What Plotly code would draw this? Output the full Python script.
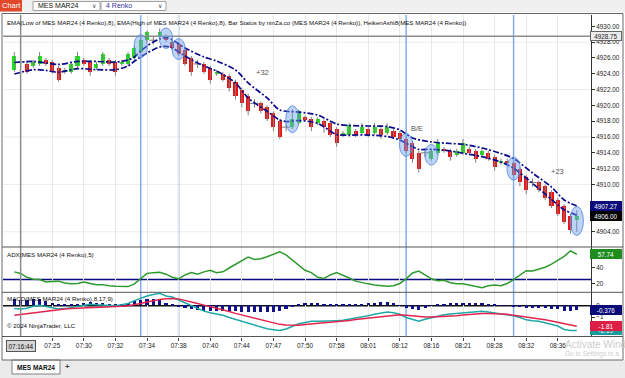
import plotly.graph_objects as go

W, H = 625, 378

# ---------------- data ----------------
opens = [
    4924.5, None, 4925.25, 4925.0, 4925.25, 4925.75, 4925.5, 4924.75, 4924.25, 4924.25,
    4925.0, 4925.75, 4925.5, 4924.75, 4925.25, 4925.75, 4925.5, 4925.25, 4925.25, 4926.0,
    4926.75, 4928.25, None, 4928.75, 4928.75, 4928.0, 4927.75, 4927.0, 4926.0, None,
    4925.25, 4924.75, 4924.0, 4924.0, 4923.75, 4923.0, 4922.0, 4921.25, None, 4920.25,
    4919.75, 4919.0, 4918.0, None, 4917.25, 4917.75, 4918.5, 4918.25, 4917.75, 4918.0,
    4917.75, 4917.0, 4916.25, 4916.25, 4916.75, 4916.5, 4917.0, 4916.5, 4917.0, 4916.5,
    4916.75, 4916.5, 4915.75, 4915.25, 4914.0, None, 4913.25, 4914.0, 4914.5, 4914.25,
    4913.75, 4914.0, 4914.5, 4914.25, 4913.75, 4914.0, 4913.5, 4912.75, 4913.0, 4912.75,
    4912.0, 4911.0, None, 4910.25, 4909.75, 4909.0, 4908.0, 4907.25, 4906.0, 4905.5]
highs = [
    4926.75, None, 4925.5, 4925.75, 4926.75, 4926.0, 4925.75, 4925.0, 4924.75, 4925.5,
    4926.75, 4926.0, 4925.75, 4925.5, 4926.75, 4926.0, 4925.75, 4925.75, 4926.75, 4927.5,
    4928.5, 4929.5, None, 4929.75, 4929.0, 4928.25, 4928.0, 4927.25, 4926.25, None,
    4925.5, 4925.0, 4924.5, 4924.25, 4924.0, 4923.25, 4922.25, 4921.5, None, 4920.5,
    4920.0, 4919.25, 4918.25, None, 4919.5, 4919.5, 4918.75, 4918.5, 4918.5, 4918.25,
    4918.0, 4917.25, 4916.75, 4917.75, 4917.0, 4917.75, 4917.25, 4917.75, 4917.25, 4917.75,
    4917.0, 4916.75, 4916.0, 4915.5, 4914.25, None, 4914.5, 4915.75, 4914.75, 4914.5,
    4914.5, 4915.75, 4914.75, 4914.5, 4914.5, 4914.25, 4913.75, 4913.25, 4913.25, 4913.0,
    4912.25, 4911.25, None, 4910.5, 4910.0, 4909.25, 4908.25, 4907.5, 4906.25, 4906.75]
lows = [
    4924.25, None, 4924.0, 4924.75, 4925.0, 4925.0, 4924.0, 4923.0, 4924.0, 4924.0,
    4924.75, 4925.0, 4923.75, 4924.5, 4925.0, 4925.0, 4923.75, 4925.0, 4925.0, 4925.75,
    4926.5, 4928.0, None, 4928.5, 4928.0, 4927.0, 4926.25, 4925.0, 4923.75, None,
    4924.0, 4922.75, 4923.75, 4923.0, 4921.75, 4920.75, 4919.75, 4918.75, None, 4919.0,
    4918.0, 4916.75, 4915.75, None, 4917.0, 4917.5, 4918.0, 4916.75, 4917.5, 4916.5,
    4916.0, 4914.75, 4916.0, 4916.0, 4916.0, 4916.25, 4916.0, 4916.25, 4915.75, 4916.25,
    4915.75, 4915.5, 4914.0, 4912.75, 4911.5, None, 4913.0, 4913.75, 4914.0, 4913.0,
    4913.5, 4913.75, 4913.75, 4912.75, 4913.5, 4913.0, 4911.75, 4912.5, 4912.5, 4911.0,
    4909.75, 4908.75, None, 4909.0, 4908.0, 4907.0, 4906.0, 4905.0, 4903.75, 4904.0]
closes = [
    4926.25, None, 4924.25, 4925.5, 4926.25, 4925.25, 4924.25, 4923.25, 4924.5, 4925.25,
    4926.25, 4925.25, 4924.25, 4925.25, 4926.5, 4925.25, 4924.25, 4925.5, 4926.5, 4927.25,
    4928.25, 4929.25, None, 4929.25, 4928.25, 4927.25, 4926.5, 4925.25, 4924.25, None,
    4924.25, 4923.25, 4924.25, 4923.25, 4922.25, 4921.25, 4920.25, 4919.25, None, 4919.25,
    4918.25, 4917.25, 4916.0, None, 4918.25, 4919.25, 4918.25, 4917.25, 4918.25, 4917.25,
    4916.25, 4915.25, 4916.5, 4917.5, 4916.25, 4917.25, 4916.25, 4917.25, 4916.25, 4917.25,
    4916.0, 4915.75, 4914.25, 4913.25, 4912.0, None, 4914.25, 4915.25, 4914.25, 4913.5,
    4914.25, 4915.25, 4914.0, 4913.25, 4914.25, 4913.25, 4912.25, 4913.0, 4912.75, 4911.25,
    4910.25, 4909.25, None, 4909.25, 4908.25, 4907.25, 4906.25, 4905.25, 4904.25, 4906.0]
bar_idx = list(range(len(opens)))

cross_idx = [1, 22, 29, 38, 43, 65, 82]
cross_price = [4925.5, 4928.25, 4925.25, 4920.25, 4917.25, 4914.0, 4910.25]

ema_hi_idx = [0, 3, 5, 7, 10, 13, 16, 18, 19, 20, 21, 22, 23, 24, 25, 27, 30, 32, 35, 37,
              40, 42, 45, 48, 51, 53, 56, 59, 61, 63, 66, 69, 71, 74, 77, 79, 82, 85, 87, 89]
ema_hi = [4925.43, 4925.56, 4925.37, 4925.18, 4925.56, 4925.56, 4925.49, 4925.75, 4926.13, 4926.89,
          4927.52, 4928.03, 4928.41, 4928.59, 4928.28, 4927.27, 4926.13, 4925.62, 4924.48, 4922.84,
          4920.94, 4919.42, 4919.16, 4918.78, 4917.65, 4917.46, 4917.39, 4917.33, 4916.89, 4915.87,
          4915.37, 4915.18, 4915.08, 4914.61, 4913.91, 4913.28, 4911.44, 4909.67, 4908.03, 4907.27]
ema_lo_idx = [0, 3, 5, 7, 10, 13, 16, 18, 19, 21, 23, 24, 25, 27, 30, 32, 35, 37, 40, 42,
              43, 45, 48, 51, 53, 56, 59, 61, 62, 64, 66, 69, 71, 74, 77, 79, 82, 85, 87, 89]
ema_lo = [4923.97, 4924.52, 4924.42, 4924.19, 4924.65, 4924.52, 4924.52, 4924.99, 4925.58, 4926.63,
          4927.39, 4927.46, 4927.27, 4926.25, 4924.99, 4924.35, 4922.84, 4920.94, 4919.25, 4918.15,
          4917.96, 4918.09, 4917.73, 4916.32, 4916.25, 4916.25, 4916.06, 4915.62, 4915.2, 4914.44,
          4914.44, 4914.23, 4913.94, 4913.51, 4912.84, 4912.04, 4910.14, 4908.1, 4906.8, 4906.1]

signal_bars = [20, 24, 26, 44, 62, 66, 79, 89]
signal_lines = [20, 26, 62, 79]

trade_text = ["+32", "B/E", "+23"]
trade_idx = [39.2, 63.7, 86.0]
trade_price = [4924.1, 4917.1, 4911.6]

adx = [35, 33, 28, 25.5, 25, 22, 22.5, 23, 20.5, 19.5,
       20, 22, 20, 18.5, 18.5, 17, 16.5, 16, 16, 19.5,
       26, 33, 34, 34.5, 32, 28, 26, 31, 34, 32,
       35, 37, 34, 35, 40, 45, 50, 54, 51, 52,
       54.5, 58, 61, 57, 50, 43, 37, 34, 28, 26.5,
       31, 34, 31, 27, 23, 21, 19.5, 18, 17, 16.5,
       17, 20, 26, 33.5, 36, 31, 26, 23.5, 24, 21,
       19.5, 19.5, 18, 16.5, 14.5, 17, 18, 17, 20, 25,
       31, 36.5, 36, 38, 41, 45, 49.5, 55, 62, 57.74]
adx_level = 25

macd = [-0.25, -0.3, -0.22, -0.05, 0.04, -0.08, -0.2, -0.3, -0.26, -0.18,
        -0.1, 0.02, 0.12, 0.08, 0.04, 0.02, 0.0, 0.08, 0.19, 0.45,
        0.66, 0.85, 0.98, 1.09, 0.85, 0.76, 0.5, 0.25, 0.0, -0.25,
        -0.48, -0.62, -0.75, -0.85, -1.05, -1.22, -1.4, -1.58, -1.72, -1.9,
        -2.04, -2.12, -2.19, -2.06, -1.85, -1.6, -1.48, -1.38, -1.38, -1.38,
        -1.36, -1.32, -1.29, -1.2, -1.08, -1.0, -0.88, -0.76, -0.65, -0.55,
        -0.62, -0.76, -1.05, -1.22, -1.38, -1.2, -1.05, -0.92, -0.8, -0.74,
        -0.7, -0.64, -0.58, -0.52, -0.5, -0.56, -0.64, -0.72, -0.8, -0.9,
        -1.05, -1.25, -1.33, -1.38, -1.5, -1.66, -1.8, -2.1, -2.2, -2.19]
macd_avg = [-0.85, -0.78, -0.68, -0.6, -0.52, -0.46, -0.4, -0.35, -0.3, -0.26,
            -0.24, -0.22, -0.19, -0.16, -0.14, -0.11, -0.08, -0.04, 0.0, 0.08,
            0.2, 0.32, 0.44, 0.55, 0.6, 0.64, 0.6, 0.48, 0.34, 0.2,
            0.05, -0.08, -0.25, -0.38, -0.52, -0.68, -0.82, -0.98, -1.14, -1.28,
            -1.42, -1.55, -1.65, -1.7, -1.74, -1.72, -1.66, -1.59, -1.55, -1.5,
            -1.47, -1.43, -1.37, -1.3, -1.23, -1.16, -1.08, -1.01, -0.95, -0.88,
            -0.82, -0.79, -0.84, -0.9, -0.96, -0.99, -1.0, -0.98, -0.95, -0.92,
            -0.88, -0.83, -0.78, -0.72, -0.7, -0.69, -0.7, -0.7, -0.76, -0.84,
            -0.91, -1.0, -1.08, -1.15, -1.24, -1.35, -1.48, -1.6, -1.72, -1.81]
macd_diff = [0.6, 0.48, 0.46, 0.55, 0.56, 0.38, 0.2, 0.05, 0.04, 0.08,
             0.14, 0.24, 0.31, 0.24, 0.18, 0.13, 0.08, 0.12, 0.19, 0.37,
             0.46, 0.53, 0.54, 0.54, 0.25, 0.12, -0.1, -0.23, -0.34, -0.45,
             -0.53, -0.54, -0.5, -0.47, -0.53, -0.54, -0.58, -0.6, -0.58, -0.62,
             -0.62, -0.57, -0.54, -0.36, -0.11, 0.12, 0.18, 0.21, 0.17, 0.12,
             0.11, 0.11, 0.08, 0.1, 0.15, 0.16, 0.2, 0.25, 0.3, 0.33,
             0.2, 0.03, -0.21, -0.32, -0.42, -0.21, -0.05, 0.06, 0.15, 0.18,
             0.18, 0.19, 0.2, 0.2, 0.2, 0.13, 0.06, -0.02, -0.04, -0.06,
             -0.14, -0.25, -0.25, -0.23, -0.26, -0.31, -0.32, -0.5, -0.48, -0.376]

tick_idx = [6, 11, 16, 21, 26, 31, 36, 41, 46, 51, 56, 61, 66, 71, 76, 81, 86]
tick_text = ["07:25", "07:30", "07:32", "07:34", "07:38", "07:40", "07:44", "07:47", "07:50",
             "07:58", "08:01", "08:12", "08:16", "08:21", "08:28", "08:32", "08:36"]
price_ticks = [4904, 4910, 4912, 4914, 4916, 4918, 4920, 4922, 4924, 4926, 4928, 4930]
price_grid = [4904, 4910, 4916, 4922, 4928]
adx_ticks = [20, 40]
macd_ticks = [-1, 0]
cursor_idx = 1
cursor_time = "07:16:44"
cursor_price = 4928.75

price_title = ("EMA(Low of MES MAR24 (4 Renko),8), EMA(High of MES MAR24 (4 Renko),8), "
               "Bar Status by ninZa.co (MES MAR24 (4 Renko)), HeikenAshi8(MES MAR24 (4 Renko))")
adx_title = "ADX(MES MAR24 (4 Renko),5)"
macd_title = "MACD(MES MAR24 (4 Renko),8,17,9)"

# ---------------- helpers ----------------
FONT = "Liberation Sans"


def fx(p):
    return p / W


def fy(p):
    return 1 - p / H


X_DOM = [fx(3), fx(591)]
X_RANGE = [-1.79, 91.25]

fig = go.Figure()

# wicks
wx, wy = [], []
for i, h, l in zip(bar_idx, highs, lows):
    if h is None:
        continue
    wx += [i, i, None]
    wy += [l, h, None]
fig.add_trace(go.Scatter(x=wx, y=wy, mode="lines", line=dict(color="#808080", width=1),
                         xaxis="x", yaxis="y", hoverinfo="skip"))

# bodies
bx, bb, bh, bc = [], [], [], []
for i, o, c in zip(bar_idx, opens, closes):
    if o is None:
        continue
    bx.append(i)
    bb.append(min(o, c))
    bh.append(max(abs(c - o), 0.12))
    bc.append("#19e619" if c > o else "#ee1111")
fig.add_trace(go.Bar(x=bx, y=bh, base=bb, marker=dict(color=bc, line=dict(width=0)),
                     width=0.64, xaxis="x", yaxis="y", hoverinfo="skip"))

# doji crosses
fig.add_trace(go.Scatter(x=cross_idx, y=cross_price, mode="markers",
                         marker=dict(symbol="cross-thin", size=6,
                                     line=dict(color="#7a7a7a", width=1)),
                         xaxis="x", yaxis="y", hoverinfo="skip"))

# EMA envelopes
for xs, ys in ((ema_hi_idx, ema_hi), (ema_lo_idx, ema_lo)):
    fig.add_trace(go.Scatter(x=xs, y=ys, mode="lines",
                             line=dict(color="#0a0a8c", width=1.7, dash="6px,2px,2px,2px",
                                       shape="spline", smoothing=0.8),
                             xaxis="x", yaxis="y", hoverinfo="skip"))

# ADX
fig.add_trace(go.Scatter(x=bar_idx, y=adx, mode="lines", line=dict(color="#2e9a2e", width=1.5),
                         xaxis="x2", yaxis="y2", hoverinfo="skip"))

# MACD
fig.add_trace(go.Bar(x=bar_idx, y=macd_diff, marker=dict(color="#10108a", line=dict(width=0)),
                     width=0.5, xaxis="x3", yaxis="y3", hoverinfo="skip"))
fig.add_trace(go.Scatter(x=bar_idx, y=macd, mode="lines", line=dict(color="#1fa8a8", width=1.5),
                         xaxis="x3", yaxis="y3", hoverinfo="skip"))
fig.add_trace(go.Scatter(x=bar_idx, y=macd_avg, mode="lines", line=dict(color="#e3244d", width=1.5),
                         xaxis="x3", yaxis="y3", hoverinfo="skip"))

shapes = []


def prect(x0, y0, x1, y1, fill=None, line=None, layer="below", lw=1):
    shapes.append(dict(type="rect", xref="paper", yref="paper", x0=fx(x0), x1=fx(x1),
                       y0=fy(y1), y1=fy(y0), fillcolor=fill or "rgba(0,0,0,0)",
                       line=dict(color=line or "rgba(0,0,0,0)", width=lw if line else 0),
                       layer=layer))


def pline(x0, y0, x1, y1, color, w=1, layer="above"):
    shapes.append(dict(type="line", xref="paper", yref="paper", x0=fx(x0), x1=fx(x1),
                       y0=fy(y0), y1=fy(y1), line=dict(color=color, width=w), layer=layer))


# toolbar and bottom tab strip
prect(0, 0, 625, 12.5, fill="#f0f0f0")
prect(0, 0, 22, 11.5, fill="#e2472b")
prect(33, 1.5, 100, 10.5, fill="#ffffff", line="#a0a0a0")
prect(101, 1.5, 166, 10.5, fill="#ffffff", line="#a0a0a0")
prect(0, 360, 625, 378, fill="#ebebeb")
prect(12, 360, 60, 374, fill="#ffffff", line="#808080")

# horizontal price grid
for p in price_grid:
    shapes.append(dict(type="line", xref="x domain", yref="y", x0=0, x1=1, y0=p, y1=p,
                       line=dict(color="#ebebeb", width=1), layer="below"))

# blue signal verticals through all panels
for b in signal_lines:
    for xr, yr in (("x", "y domain"), ("x2", "y2 domain"), ("x3", "y3 domain")):
        shapes.append(dict(type="line", xref=xr, yref=yr, x0=b, x1=b, y0=0, y1=1,
                           line=dict(color="#82acf0", width=1.5), layer="below"))

# crosshair
for xr, yr in (("x", "y domain"), ("x2", "y2 domain"), ("x3", "y3 domain")):
    shapes.append(dict(type="line", xref=xr, yref=yr, x0=cursor_idx, x1=cursor_idx, y0=0, y1=1,
                       line=dict(color="#8c8c8c", width=1.5), layer="above"))
shapes.append(dict(type="line", xref="x domain", yref="y", x0=0, x1=1,
                   y0=cursor_price, y1=cursor_price, line=dict(color="#8c8c8c", width=1.5),
                   layer="above"))

# ADX level, MACD zero
shapes.append(dict(type="line", xref="x2 domain", yref="y2", x0=0, x1=1, y0=adx_level,
                   y1=adx_level, line=dict(color="#0a0a80", width=1.5), layer="below"))
shapes.append(dict(type="line", xref="x3 domain", yref="y3", x0=0, x1=1, y0=0, y1=0,
                   line=dict(color="#111111", width=1.5), layer="below"))

# signal ellipses
for b in signal_bars:
    hi, lo = highs[b], lows[b]
    mid = (hi + lo) / 2
    half = max((hi - lo) / 2 + 0.45, 1.3)
    shapes.append(dict(type="circle", xref="x", yref="y", x0=b - 1.05, x1=b + 1.05,
                       y0=mid - half, y1=mid + half, fillcolor="rgba(110,160,235,0.45)",
                       line=dict(color="rgba(90,140,225,0.85)", width=1), layer="above"))

# frame and panel separators
pline(2, 13.5, 623, 13.5, "#6a6a6a")
pline(2, 13.5, 2, 360, "#6a6a6a")
pline(623, 13.5, 623, 360, "#6a6a6a")
pline(2, 360, 623, 360, "#6a6a6a")
pline(2, 247, 623, 247, "#555555")
pline(2, 292.3, 623, 292.3, "#555555")
pline(2, 336.5, 623, 336.5, "#555555")

ann = []


def text(x, y, t, size=6.2, color="#111111", xanchor="left", bold=False, **kw):
    ann.append(dict(x=fx(x), y=fy(y), xref="paper", yref="paper", text=("<b>%s</b>" % t) if bold else t,
                    showarrow=False, xanchor=xanchor, yanchor="middle",
                    font=dict(family=FONT, size=size, color=color), **kw))


text(5, 23, price_title, size=6.15)
text(5, 254, adx_title)
text(5, 298.5, macd_title)
text(5, 325.5, "\u00a9 2024 NinjaTrader, LLC")
text(11, 6, "Chart", size=7.5, color="#ffffff", xanchor="center")
text(36, 6, "MES MAR24", size=7)
text(104, 6, "4 Renko", size=7, color="#333399")
text(94, 6, "\u2228", size=6, color="#444444", xanchor="center")
text(160, 6, "\u2228", size=6, color="#444444", xanchor="center")
text(36, 367, "MES MAR24", size=6.5, xanchor="center", bold=True)
text(67, 366.5, "+", size=8, color="#444444", xanchor="center", bold=True)
text(563, 344, "Activate Windo", size=10, color="#cdcdcd")
text(563, 354, "Go to Settings to a", size=6.5, color="#cdcdcd")

# trade texts
for t, xi, yp in zip(trade_text, trade_idx, trade_price):
    ann.append(dict(x=xi, y=yp, xref="x", yref="y", text=t, showarrow=False,
                    font=dict(family=FONT, size=7.5, color="#555555")))

# cursor time label
ann.append(dict(x=cursor_idx, y=fy(345.8), xref="x3", yref="paper", text=cursor_time,
                showarrow=False, bgcolor="#d6d6d6", bordercolor="#555555", borderwidth=1,
                borderpad=1.5, yanchor="middle", font=dict(family=FONT, size=6.3, color="#111111")))


def value_label(val, yref, txt, bg, fg="#ffffff", border=None):
    ann.append(dict(x=fx(590), y=val, xref="paper", yref=yref, text=txt, showarrow=False,
                    xanchor="left", yanchor="middle", bgcolor=bg, bordercolor=border or bg,
                    borderwidth=1, borderpad=0.5, width=29,
                    font=dict(family=FONT, size=6.3, color=fg)))


value_label(cursor_price, "y", "%.2f" % cursor_price, "#ececec", fg="#222222", border="#666666")
value_label(ema_hi[-1], "y", "%.2f" % ema_hi[-1], "#0a0a7a")
value_label(closes[-1], "y", "%.2f" % closes[-1], "#000000")
value_label(adx[-1], "y2", "%.2f" % adx[-1], "#1f8c1f")
value_label(macd_diff[-1], "y3", "%.3f" % macd_diff[-1], "#0a0a7a")
value_label(macd[-1], "y3", "%.2f" % macd[-1], "#1a9a9a")
value_label(macd_avg[-1], "y3", "%.2f" % macd_avg[-1], "#dc1f45")

tickfont = dict(family=FONT, size=6.4, color="#1a1a1a")
xcommon = dict(domain=X_DOM, range=X_RANGE, tickvals=tick_idx, showgrid=True,
               gridcolor="#e8e8e8", gridwidth=1, zeroline=False, fixedrange=True)
ycommon = dict(side="right", showline=True, linecolor="#333333", linewidth=1, ticks="outside",
               ticklen=3, tickcolor="#333333", showgrid=False, zeroline=False, tickfont=tickfont)

fig.update_layout(
    width=W, height=H, autosize=False,
    margin=dict(l=0, r=0, t=0, b=0, pad=0),
    paper_bgcolor="#ffffff", plot_bgcolor="rgba(0,0,0,0)",
    showlegend=False, barmode="overlay", bargap=0,
    xaxis=dict(**xcommon, anchor="y", showticklabels=False, ticks=""),
    xaxis2=dict(**xcommon, anchor="y2", showticklabels=False, ticks="", matches="x"),
    xaxis3=dict(**xcommon, anchor="y3", ticktext=tick_text, ticks="outside", ticklen=3,
                tickcolor="#444444", tickfont=tickfont, matches="x"),
    yaxis=dict(**ycommon, domain=[fy(247), fy(15)], range=[4902.08, 4931.44], anchor="x",
               tickvals=price_ticks, tickformat=".2f"),
    yaxis2=dict(**ycommon, domain=[fy(292.3), fy(247)], range=[8.6, 67.1], anchor="x2",
                tickvals=adx_ticks),
    yaxis3=dict(**ycommon, domain=[fy(336.5), fy(292.3)], range=[-2.72, 1.18], anchor="x3",
                tickvals=macd_ticks),
    shapes=shapes,
    annotations=ann,
)

fig.write_html("out.html", config={"displayModeBar": False})
